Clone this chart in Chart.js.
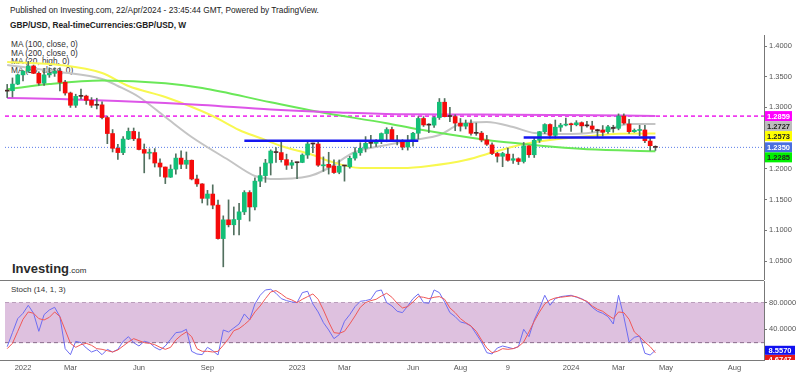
<!DOCTYPE html>
<html>
<head>
<meta charset="utf-8">
<script src="https://cdn.jsdelivr.net/npm/chart.js@4.4.1/dist/chart.umd.min.js"></script>
<style>
body{margin:0;background:#fff;font-family:"Liberation Sans",Arial,sans-serif;}
#wrap{position:relative;width:800px;height:375px;overflow:hidden;}
.t{position:absolute;white-space:nowrap;color:#222;line-height:1;}
.sep{position:absolute;left:0;width:764px;height:1px;background:#7a7a7a;}
canvas{position:absolute;left:0;}
</style>
</head>
<body>
<div id="wrap">
<div class="t" style="left:10px;top:6px;font-size:8.3px">Published on Investing.com, 22/Apr/2024 - 23:45:44 GMT, Powered by TradingView.</div>
<div class="t" style="left:10px;top:21px;font-size:8.3px;font-weight:bold">GBP/USD, Real-timeCurrencies:GBP/USD, W</div>
<div class="t" style="left:11px;top:40px;font-size:8.3px;line-height:8.7px;color:#333">MA (100, close, 0)<br>MA (200, close, 0)<br>MA (20, high, 0)<br>MA (50, close, 0)</div>
<div class="t" style="left:12px;top:260px;color:#2b2b2b"><span style="font-size:13px;font-weight:bold">Investing</span><span style="font-size:8px">.com</span></div>
<div class="sep" style="top:280px"></div>
<div class="sep" style="top:360px"></div>
<div class="t" style="left:11px;top:286px;font-size:8px;color:#333">Stoch (14, 1, 3)</div>
<canvas id="price" width="800" height="280" style="top:0"></canvas>
<canvas id="stoch" width="800" height="95" style="top:280px"></canvas>
</div>
<script>

// weekly candles, week 0 = 13 Dec 2021, last = 22 Apr 2024
const opens = [
 1.3265,1.3272,1.3380,1.3530,1.3590,1.3675,1.3555,1.3395,1.3530,1.3555,
 1.3590,1.3410,1.3235,1.3035,1.3180,1.3185,1.3115,1.3035,1.3042,1.2835,
 1.2575,1.2335,1.2265,1.2485,1.2610,1.2490,1.2315,1.2255,1.2265,1.2095,
 1.2030,1.1865,1.1995,1.2175,1.2075,1.2140,1.1835,1.1755,1.1520,1.1590,
 1.1410,1.0865,1.1170,1.1090,1.1175,1.1300,1.1615,1.1380,1.1800,1.1890,
 1.2095,1.2268,1.2265,1.2150,1.2060,1.2100,1.2105,1.2225,1.2405,1.2405,
 1.2050,1.2074,1.2047,1.1945,1.2047,1.2035,1.2175,1.2262,1.2335,1.2415,
 1.2415,1.2445,1.2575,1.2640,1.2455,1.2450,1.2355,1.2445,1.2580,1.2820,
 1.2715,1.2712,1.2835,1.3085,1.2852,1.2850,1.2745,1.2695,1.2740,1.2578,
 1.2582,1.2470,1.2390,1.2250,1.2205,1.2240,1.2140,1.2165,1.2120,1.2375,
 1.2230,1.2465,1.2605,1.2722,1.2545,1.2678,1.2712,1.2735,1.2718,1.2752,
 1.2700,1.2698,1.2625,1.2632,1.2605,1.2662,1.2660,1.2860,1.2730,1.2605,
 1.2625,1.2633,1.2453,1.2352
]
const highs = [
 1.3375,1.3480,1.3545,1.3600,1.3750,1.3690,1.3580,1.3630,1.3645,1.3645,
 1.3645,1.3440,1.3250,1.3215,1.3300,1.3200,1.3160,1.3150,1.3090,1.2860,
 1.2640,1.2400,1.2525,1.2665,1.2665,1.2600,1.2405,1.2325,1.2330,1.2165,
 1.2030,1.2065,1.2245,1.2295,1.2275,1.2145,1.1900,1.1760,1.1650,1.1740,
 1.1490,1.1235,1.1495,1.1380,1.1440,1.1645,1.1645,1.1855,1.2030,1.2155,
 1.2310,1.2345,1.2445,1.2240,1.2140,1.2110,1.2245,1.2435,1.2420,1.2450,
 1.2195,1.2270,1.2145,1.2145,1.2055,1.2205,1.2345,1.2425,1.2525,1.2545,
 1.2475,1.2585,1.2670,1.2680,1.2545,1.2475,1.2545,1.2595,1.2850,1.2850,
 1.2735,1.2850,1.3145,1.3145,1.3000,1.2880,1.2820,1.2795,1.2800,1.2745,
 1.2610,1.2545,1.2425,1.2270,1.2270,1.2340,1.2240,1.2180,1.2430,1.2380,
 1.2505,1.2610,1.2735,1.2735,1.2795,1.2740,1.2825,1.2745,1.2785,1.2765,
 1.2775,1.2775,1.2645,1.2705,1.2710,1.2710,1.2895,1.2895,1.2805,1.2650,
 1.2710,1.2710,1.2500,1.2375
]
const lows = [
 1.3160,1.3170,1.3370,1.3430,1.3570,1.3550,1.3360,1.3360,1.3490,1.3505,
 1.3270,1.3200,1.3000,1.3000,1.3140,1.3050,1.3000,1.2975,1.2815,1.2410,
 1.2275,1.2155,1.2230,1.2475,1.2460,1.2310,1.1935,1.2160,1.2030,1.1875,
 1.1760,1.1860,1.1915,1.2005,1.2005,1.1820,1.1715,1.1445,1.1410,1.1350,
 1.0855,1.0405,1.1055,1.0925,1.0925,1.1255,1.1150,1.1330,1.1710,1.1780,
 1.1900,1.2105,1.2110,1.1990,1.2005,1.1840,1.2100,1.2170,1.2265,1.2040,
 1.1960,1.1915,1.1925,1.1920,1.1800,1.2010,1.2140,1.2220,1.2275,1.2345,
 1.2365,1.2410,1.2440,1.2445,1.2390,1.2310,1.2305,1.2370,1.2485,1.2690,
 1.2590,1.2675,1.2805,1.2845,1.2770,1.2620,1.2615,1.2650,1.2550,1.2545,
 1.2440,1.2380,1.2230,1.2110,1.2035,1.2125,1.2090,1.2070,1.2095,1.2185,
 1.2185,1.2430,1.2575,1.2500,1.2500,1.2610,1.2700,1.2610,1.2700,1.2595,
 1.2680,1.2600,1.2520,1.2535,1.2575,1.2595,1.2635,1.2725,1.2575,1.2595,
 1.2540,1.2425,1.2300,1.2300
]
const closes = [
 1.3272,1.3380,1.3530,1.3590,1.3675,1.3555,1.3395,1.3530,1.3555,1.3590,
 1.3410,1.3235,1.3035,1.3180,1.3185,1.3115,1.3035,1.3042,1.2835,1.2575,
 1.2335,1.2265,1.2485,1.2610,1.2490,1.2315,1.2255,1.2265,1.2095,1.2030,
 1.1865,1.1995,1.2175,1.2075,1.2140,1.1835,1.1755,1.1520,1.1590,1.1410,
 1.0865,1.1170,1.1090,1.1175,1.1300,1.1615,1.1380,1.1800,1.1890,1.2095,
 1.2290,1.2265,1.2150,1.2060,1.2100,1.2105,1.2225,1.2405,1.2405,1.2060,
 1.2065,1.2025,1.1940,1.2045,1.2047,1.2172,1.2262,1.2335,1.2415,1.2415,
 1.2445,1.2575,1.2640,1.2455,1.2450,1.2355,1.2445,1.2580,1.2820,1.2715,
 1.2712,1.2835,1.3085,1.2850,1.2856,1.2745,1.2695,1.2740,1.2578,1.2582,
 1.2470,1.2400,1.2250,1.2205,1.2250,1.2140,1.2165,1.2120,1.2375,1.2230,
 1.2465,1.2605,1.2722,1.2545,1.2678,1.2712,1.2728,1.2718,1.2750,1.2700,
 1.2704,1.2645,1.2622,1.2595,1.2685,1.2658,1.2860,1.2745,1.2605,1.2628,
 1.2640,1.2458,1.2377,1.2350
]

// moving averages: week index -> value
const ma100Weeks = [0, 8, 18, 30, 37, 50, 59, 72, 78, 91, 98, 104, 110, 123]
const ma100 = [1.3295, 1.3381, 1.3438, 1.3393, 1.3316, 1.3084, 1.2930, 1.2742, 1.2644, 1.2470, 1.2405, 1.2355, 1.2319, 1.2287]
const ma200Weeks = [0, 10, 21, 30, 37, 50, 63, 75, 90, 105, 123]
const ma200 = [1.3154, 1.3137, 1.3105, 1.3072, 1.3040, 1.2966, 1.2917, 1.2888, 1.2885, 1.2877, 1.2862]
const ma20hWeeks = [0, 10, 18, 21, 25, 30, 35, 42, 47, 50, 55, 58, 61, 66, 72, 77, 82, 86, 91, 96, 100, 107, 113, 118, 123]
const ma20h = [1.3691, 1.3577, 1.3463, 1.3349, 1.3170, 1.2844, 1.2519, 1.2144, 1.1884, 1.1835, 1.1851, 1.1900, 1.2014, 1.2274, 1.2388, 1.2470, 1.2551, 1.2730, 1.2763, 1.2681, 1.2584, 1.2567, 1.2616, 1.2730, 1.2730]
const ma50Weeks = [0, 10, 18, 23, 30, 39, 44, 48, 52, 58, 61, 67, 75, 80, 87, 93, 98, 103, 110, 116, 123]
const ma50 = [1.3740, 1.3691, 1.3560, 1.3349, 1.3170, 1.2861, 1.2633, 1.2502, 1.2372, 1.2226, 1.2128, 1.2014, 1.2014, 1.2047, 1.2144, 1.2290, 1.2405, 1.2470, 1.2530, 1.2572, 1.2575]

// hand drawn levels
const levelFrom = [45, 98]
const levelTo = [78, 123]
const levelPrice = [1.2458, 1.2510]

// right axis tags
const tagValues = [1.2859, 1.2727, 1.2573, 1.2350, 1.2285]
const priceTicks = [1.05, 1.10, 1.15, 1.20, 1.25, 1.30, 1.35, 1.40]

// stochastic %K and %D
const stochK = [
 14,35,56,64,76,64,37,62,69,73,59,11,2,22,20,12,6,9,2,10,
 6,10,22,29,20,15,22,20,13,9,15,25,35,36,40,7,3,2,13,8,
 1.5,39,36,42,48,63,54,78,91,99,100,94,86,83,81,80,95,97,78,66,
 50,39,26,32,52,62,74,82,83,85,97,99,80,75,67,65,75,86,93,80,
 79,99,95,81,65,59,51,49,45,33,21,5,3,12,15,13,11,14,40,29,
 54,71,91,76,86,89,90,91,88,86,81,73,67,64,59,48,91,59,21,28,
 30,4,1.5,8.557
]
const stochD = [
 11,19,37,55,66,64,56,54,58,66,59,39,19,13,17,19,16,11,10,8,
 6,9,15,21,26,23,20,19,17,13,10,13,24,31,36,29,11,7,7,6,
 7,16,26,38,41,47,54,66,75,86,96,98,93,87,84,80,85,89,93,85,
 69,51,35,34,37,48,60,73,80,83,85,90,94,88,79,72,74,81,89,88,
 86,88,89,85,72,65,56,50,45,37,24,12,5,7,11,10,11,14,21,36,
 52,66,78,84,87,88,89,90,89,85,82,75,70,67,61,56,66,65,55,36,
 29,21,14,4.6747
]
const stochTicks = [40, 80]
const bandLevels = [80, 20]

const dateTickWeeks = [3, 12, 25, 38, 55, 64, 77, 86, 95, 107, 116, 125, 138]
const dateTickLabels = ["2022", "Mar", "Jun", "Sep", "2023", "Mar", "Jun", "Aug", "9", "2024", "Mar", "May", "Aug"]

const X_MIN = -0.417
const X_MAX = 143.6
const FONT = '"Liberation Sans", Arial, sans-serif'

const UP = "#14bf78"
const DOWN = "#f50a0a"
const DOJI = "#4a2626"
const WICK = "#52705f"

const tagStyles = [
    {bg: "#ff00ff", fg: "#ffffff"},
    {bg: "#bdbdbd", fg: "#222222"},
    {bg: "#ffff00", fg: "#222222"},
    {bg: "#4a6fe0", fg: "#ffffff"},
    {bg: "#00f000", fg: "#222222"}
]

const pts = (ws, vs) => ws.map((w, k) => ({x: w, y: vs[k]}))
const flat = (v, a, b) => [{x: a, y: v}, {x: b, y: v}]

// keep the chart area exactly where the layout padding puts it
function noEdgePadding(s){
    s.paddingTop = 0
    s.paddingBottom = 0
    s.paddingLeft = 0
    s.paddingRight = 0
}

const bodies = opens.map((o, i) => ({x: i, y: [o, closes[i]]}))
const wicks = lows.map((l, i) => ({x: i, y: [l, highs[i]]}))
const bodyColors = opens.map((o, i) => {
    const c = closes[i]
    if (Math.abs(c - o) < 0.0009) return DOJI
    return c > o ? UP : DOWN
})

function maLine(data, color, width){
    return {
        type: "line", data: data, borderColor: color, borderWidth: width,
        pointRadius: 0, cubicInterpolationMode: "monotone", order: 4
    }
}

const tagPlugin = {
    id: "tags",
    afterDraw(chart){
        const ctx = chart.ctx
        const y = chart.scales.y
        const left = chart.chartArea.right + 1
        let prev = -1e9
        ctx.save()
        ctx.font = "bold 7.5px " + FONT
        ctx.textAlign = "center"
        ctx.textBaseline = "middle"
        tagValues.forEach((v, k) => {
            const py = Math.max(y.getPixelForValue(v), prev + 10)
            prev = py
            ctx.fillStyle = tagStyles[k].bg
            ctx.fillRect(left, py - 5, 27, 10)
            ctx.fillStyle = tagStyles[k].fg
            ctx.fillText(v.toFixed(4), left + 13.5, py + 0.5)
        })
        ctx.restore()
    }
}

const datasets = [
    {type: "bar", data: wicks, backgroundColor: WICK, barThickness: 1, grouped: false, order: 1},
    {type: "bar", data: bodies, backgroundColor: bodyColors, barThickness: 4, minBarLength: 1, grouped: false, order: 0},
    maLine(pts(ma200Weeks, ma200), "#dd55e8", 2),
    maLine(pts(ma100Weeks, ma100), "#6ae858", 2),
    maLine(pts(ma50Weeks, ma50), "#f8f850", 2),
    maLine(pts(ma20hWeeks, ma20h), "#c4c4c4", 2),
    {type: "line", data: flat(tagValues[0], X_MIN, X_MAX), borderColor: "#f03cf0", borderWidth: 1.6,
        borderDash: [4, 3], pointRadius: 0, order: 5},
    {type: "line", data: flat(tagValues[3], X_MIN, X_MAX), borderColor: "#5a7be8", borderWidth: 1,
        borderDash: [1, 2], pointRadius: 0, order: 5}
]
levelPrice.forEach((p, k) => {
    datasets.push({type: "line", data: flat(p, levelFrom[k], levelTo[k]), borderColor: "#1616f0",
        borderWidth: 2.5, pointRadius: 0, order: -1})
})

new Chart(document.getElementById("price"), {
    type: "bar",
    data: {datasets: datasets},
    options: {
        responsive: false,
        animation: false,
        layout: {padding: {top: 35, left: 5, right: 0, bottom: 0}},
        plugins: {legend: {display: false}, tooltip: {enabled: false}},
        scales: {
            x: {type: "linear", min: X_MIN, max: X_MAX, offset: false, display: false},
            y: {
                position: "right", min: 1.01908, max: 1.41791,
                afterFit(s){ s.width = 36; noEdgePadding(s) },
                afterBuildTicks(s){ s.ticks = priceTicks.map(v => ({value: v})) },
                ticks: {callback: v => v.toFixed(4), color: "#555", padding: 2, font: {size: 7.5, family: FONT}},
                grid: {drawOnChartArea: false, tickLength: 3, color: "#777"},
                border: {color: "#777"}
            }
        }
    },
    plugins: [tagPlugin]
})

const stochTags = {
    id: "stochTags",
    afterDraw(chart){
        const ctx = chart.ctx
        const y = chart.scales.y
        const area = chart.chartArea
        const left = area.right + 1
        const ky = y.getPixelForValue(stochK[stochK.length - 1])
        const dy = Math.max(y.getPixelForValue(stochD[stochD.length - 1]), ky + 9)
        ctx.save()
        ctx.beginPath()
        ctx.rect(left, area.top, 40, area.bottom - area.top)
        ctx.clip()
        ctx.font = "bold 7.5px " + FONT
        ctx.textAlign = "center"
        ctx.textBaseline = "middle"
        ctx.fillStyle = "#e81818"
        ctx.fillRect(left, dy - 4.5, 30, 9)
        ctx.fillStyle = "#fff"
        ctx.fillText(stochD[stochD.length - 1].toFixed(4), left + 15, dy + 0.5)
        ctx.fillStyle = "#1010f0"
        ctx.fillRect(left, ky - 4.5, 30, 9)
        ctx.fillStyle = "#fff"
        ctx.fillText(stochK[stochK.length - 1].toFixed(4), left + 15, ky + 0.5)
        ctx.restore()
    }
}

new Chart(document.getElementById("stoch"), {
    type: "line",
    data: {
        datasets: [
            {data: flat(bandLevels[0], X_MIN, X_MAX), borderColor: "#8a6a8a", borderWidth: 1,
                borderDash: [4, 3], pointRadius: 0, fill: false, order: 5},
            {data: flat(bandLevels[1], X_MIN, X_MAX), borderColor: "#8a6a8a", borderWidth: 1,
                borderDash: [4, 3], pointRadius: 0, fill: "-1", backgroundColor: "#dec1df", order: 4},
            {data: stochK.map((v, i) => ({x: i, y: v})), borderColor: "#6d6df2", borderWidth: 1,
                pointRadius: 0, order: 1},
            {data: stochD.map((v, i) => ({x: i, y: v})), borderColor: "#f05858", borderWidth: 1,
                pointRadius: 0, order: 0}
        ]
    },
    options: {
        responsive: false,
        animation: false,
        layout: {padding: {top: 1, left: 5, right: 0, bottom: 0}},
        plugins: {legend: {display: false}, tooltip: {enabled: false}},
        scales: {
            x: {
                type: "linear", min: X_MIN, max: X_MAX,
                afterFit(s){ s.height = 15; noEdgePadding(s) },
                afterBuildTicks(s){ s.ticks = dateTickWeeks.map(v => ({value: v})) },
                ticks: {callback: (v, i) => dateTickLabels[i], autoSkip: false, maxRotation: 0,
                    color: "#555", padding: 3, font: {size: 7.5, family: FONT}},
                grid: {display: false, drawTicks: false},
                border: {display: false}
            },
            y: {
                position: "right", min: -6, max: 112.4,
                afterFit(s){ s.width = 36; noEdgePadding(s) },
                afterBuildTicks(s){ s.ticks = stochTicks.map(v => ({value: v})) },
                ticks: {callback: v => v.toFixed(4), color: "#555", padding: 2, font: {size: 7.5, family: FONT}},
                grid: {drawOnChartArea: false, tickLength: 3, color: "#777"},
                border: {color: "#777"}
            }
        }
    },
    plugins: [stochTags]
})
</script>
</body>
</html>
